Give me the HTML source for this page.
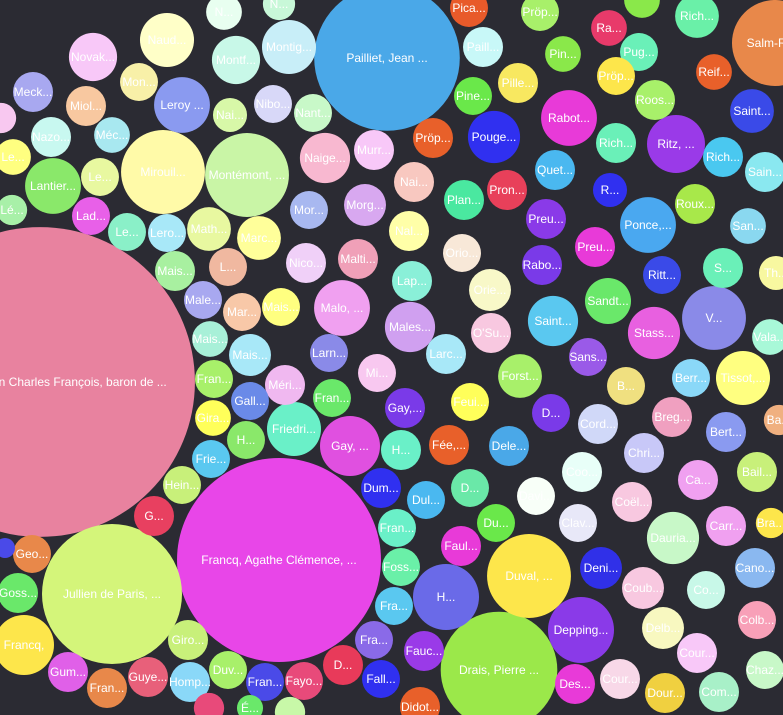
<!DOCTYPE html>
<html><head><meta charset="utf-8">
<style>
html,body{margin:0;padding:0;background:#2b2b33;overflow:hidden}
svg{display:block}
text{font-family:"Liberation Sans",sans-serif;font-size:12px;fill:#fff;text-anchor:middle;dominant-baseline:central}
</style></head>
<body>
<svg id="chart" width="783" height="715" viewBox="0 0 783 715"></svg>
<script>
const labels=["Ladoucette, Jean Charles François, baron de ...","Francq, Agathe Clémence, ...","Jullien de Paris, ...","Pailliet, Jean ...","Drais, Pierre ...","Duval, ...","Montémont, ...","Mirouil...","Salm-Re...","Depping...","Gay, ...","V...","Ponce,...","Ritz, ...","Rabot...","Malo, ...","Males...","H...","Friedri...","Stass...","Tissot,...","Saint...","Lantier...","Leroy ...","Montig...","Montf...","Naige...","Pouge...","Dauria...","Ca...",
"N...","N...","Pica...","Pröp...","Ra...","","Rich...","Naud...","Novak...","Paill...","Pin...","Pug...","Reif...","Pröp...","Pille...","Pine...","Roos...","Saint...","Meck...","Mon...","Miol...","Nai...","Nibo...","Nant...","Nazo...","Méc...","","Pröp...","Rich...","Rich...","Sain...","Le...","Le...","Murr...","Nai...","Quet...","Pron...","R...","Plan...","Roux...","Lé...","Lad...","Mor...","Morg...","Preu...","San...","Le...","Lero...","Math...","Marc...","Nal...","Orio...","Preu...","Rabo...","S...","Th...","Mais...","L...","Nico...","Malti...","Lap...","Orie...","Ritt...","Male...","Mar...","Mais...","Sandt...","Vala...","Mais...","O'Su...","Mais...","Larn...","Larc...","Sans...","Fran...","Méri...","Mi...","Forst...","Berr...","B...","Gira...","Gall...","Fran...","Gay,...","Feui...","D...","Cord...","Breg...","Bert...","Ba...","Frie...","H...","H...","Fée,...","Dele...","Chri...","Bail...","Hein...","Dum...","D...","Coo...","G...","Dul...","Davi...","Coël...","Carr...","Bra...","Fran...","Du...","Clav...","Geo...","Faul...","","Foss...","Deni...","Cano...","Goss...","Coub...","Co...","Fra...","Francq,","Giro...","Fra...","Fauc...","Delb...","Colb...","Cour...","Gum...","Fran...","Guye...","Homp...","Duv...","Fran...","Fayo...","D...","Fall...","Des...","Cour...","Dour...","Com...","Chaz...","Didot...","","É...",""];
const values=[240,104,49,53,34,17.6,17.6,17.6,18.5,10.9,9,10.2,7.8,8.4,7.8,7.8,6.3,10.9,7.3,6.8,7.3,6.3,7.8,7.8,7.3,5.8,6.3,6.8,6.8,4,
3.2,2.6,3.6,3.6,3.2,3.2,4.8,7.3,5.8,4,3.2,3.6,3.2,3.6,4,3.6,4,4.8,4,3.6,4,2.9,3.6,3.6,4,3.2,2.3,4,4,4,4,3.2,3.6,4,4,4,4,2.9,4,4,2.3,3.6,3.6,4.4,4,3.2,3.6,3.6,4.8,4.8,4,3.6,4,4,4,2.9,4,3.6,4,4,4,4.4,3.6,3.6,3.6,3.6,5.3,3.2,3.2,4,4.4,3.6,4,3.6,3.6,4,3.6,4.8,3.6,3.6,3.2,3.6,3.6,4,3.6,3.6,4,4,4,2.3,3.6,3.6,4,4,4,4,4,3.6,4,3.6,4,4,3.6,3.6,4,4,2.3,3.6,3.6,3.6,3.6,4,1,3.6,4.4,4,4,4.4,3.6,3.6,9,4,3.6,4,4.4,3.6,4,4,4,4,4,3.6,3.6,3.6,4,3.6,4,4,4,4,3.6,4,2.3,1.7,2.3];
const colors=["#e8829f","#e846e8","#d4f57a","#4aa8e8","#9be84a","#fde64b","#c9f5a6","#fffaa8","#e8884a","#8a3ae8","#e050e0","#8a8ae8","#4aa8f0","#9a3ae8","#e83ad8","#f0a0f0","#d0a0f0","#6a6ae8","#6af0c8","#e860e0","#ffff80","#5ac8f0","#8ae86a","#8a9af0","#c8eef8","#c8f8e8","#f8b8d0","#3030f0","#c8f8c8","#f0a0f0",
"#e8fff0","#c8f8d8","#e85a2a","#a8f06a","#e83a6a","#8ae84a","#6af0a8","#ffffc8","#f8c8f8","#c8f8f8","#8ae84a","#6af0b8","#e8602a","#fde64b","#f8e860","#6ae84a","#a8f06a","#3a4ae8","#a8a8f0","#f8f0a8","#f8c8a0","#d8f8a8","#d8d8f8","#c8f8c8","#c8f8f0","#a8e8f0","#f8c8f0","#e8602a","#6af0b8","#4ac8f0","#8ae8f0","#ffff80","#e8f8a0","#f8c8f8","#f8c8c0","#4ab8f0","#e8405a","#3030f0","#4ae8a0","#a8e84a","#a8f0a8","#e860e8","#a8b8f0","#d8a8f0","#8a3ae8","#8ad8f0","#8af0c8","#a8e8f8","#e8f8a0","#ffff9a","#ffffa8","#f8e8d8","#e83ad8","#7a3ae8","#6af0b8","#f8f8a0","#a8f0a0","#f0b8a0","#f0d0f8","#f0a0b8","#8af0d8","#f8f8c8","#3a4ae8","#a8a8f0","#f8c8a8","#ffff80","#6ae86a","#a8f8d8","#a8f0d8","#f8c8e0","#a8e8f8","#8a8ae8","#a8e8f8","#9a5ae8","#a8f06a","#f0b8f0","#f8c8f0","#a8f06a","#8ad8f8","#f0e080","#ffff5a","#6a8ae8","#6ae86a","#7a3ae8","#ffff5a","#7a3ae8","#d0d8f8","#f0a0c0","#8a9af0","#f0b080","#5ac8f0","#8ae86a","#6af0c8","#e8602a","#4aa8e8","#c8c8f8","#c8f07a","#c8f07a","#3030f0","#6ae8a8","#e8fff8","#e84060","#4ab8f0","#f8fff8","#f8c8e0","#f0a0f0","#fde64b","#6af0c8","#6ae84a","#e8e8f8","#e8884a","#e83ad8","#4a4ae8","#6af0a8","#3030e8","#8ab8f0","#6ae86a","#f8c8e0","#c8f8e8","#5ac8f0","#fde64b","#c8f07a","#8a6ae8","#9a3ae8","#f8f8c0","#f8a0b8","#f8c8f8","#e060e8","#e8884a","#e8607a","#8ad8f8","#a8f06a","#4a4ae8","#e84a7a","#e83a5a","#3030f0","#e83ad8","#f8d8e8","#f0d040","#a8f0c8","#c8f8c8","#e8602a","#e84a7a","#6ae86a","#c8f8a8"];
// packed layout positions (from force/pack layout)
const cx=[40,279,112,387,499,529,247,163,775,581,350,714,648,676,569,342,410,446,294,654,743,553,53,182,289,236,325,494,673,698,
224,279,469,540,609,642,697,167,93,483,563,639,714,616,518,473,655,752,33,139,86,230,273,313,51,112,1,433,616,723,765,13,100,374,414,555,507,610,464,695,12,91,309,365,546,748,127,167,209,259,409,462,595,542,723,776,175,228,306,358,412,490,662,203,242,281,608,770,210,491,250,329,446,588,214,285,377,520,691,626,213,250,332,405,470,551,598,672,726,779,211,246,401,449,509,644,757,182,381,470,582,154,426,536,632,726,771,397,496,578,32,461,5,401,601,755,18,643,706,394,24,188,374,424,663,757,697,68,107,148,190,228,265,304,343,381,575,620,665,719,765,420,209,250,290];
const cy=[382,560,594,58,670,576,175,172,43,630,446,318,225,144,118,308,327,597,429,333,378,321,186,105,47,60,158,137,538,480,
12,4,8,12,28,0,16,40,57,47,54,52,72,76,83,96,100,111,92,82,106,115,104,113,137,135,118,138,143,157,172,157,177,150,182,170,190,190,200,204,210,216,210,205,219,226,232,233,229,238,231,253,247,265,268,273,271,267,263,259,281,290,275,300,312,307,301,337,339,333,355,353,354,357,379,385,373,376,378,386,418,401,398,408,402,413,424,417,432,420,459,440,450,445,446,453,472,485,488,488,472,516,500,496,502,526,523,528,523,523,554,546,548,567,568,568,593,588,590,606,645,640,640,651,628,620,653,672,688,677,682,670,682,681,665,679,684,679,693,692,670,707,708,708,712];
const svg=document.getElementById('chart');
const NS='http://www.w3.org/2000/svg';
function rScale(v){return 10*Math.sqrt(v);}
for(let i=0;i<labels.length;i++){
  const g=document.createElementNS(NS,'g');
  
  
  const c=document.createElementNS(NS,'circle');
  
  
  c.setAttribute('cx',cx[i]);c.setAttribute('cy',cy[i]);
  c.setAttribute('r',rScale(values[i]));c.setAttribute('fill',colors[i]);
  g.appendChild(c);
  if(labels[i]){
    const t=document.createElementNS(NS,'text');
    
    
    t.setAttribute('x',cx[i]);t.setAttribute('y',cy[i]);
    t.textContent=labels[i];
    g.appendChild(t);
  }
  svg.appendChild(g);
}
</script>
</body></html>
